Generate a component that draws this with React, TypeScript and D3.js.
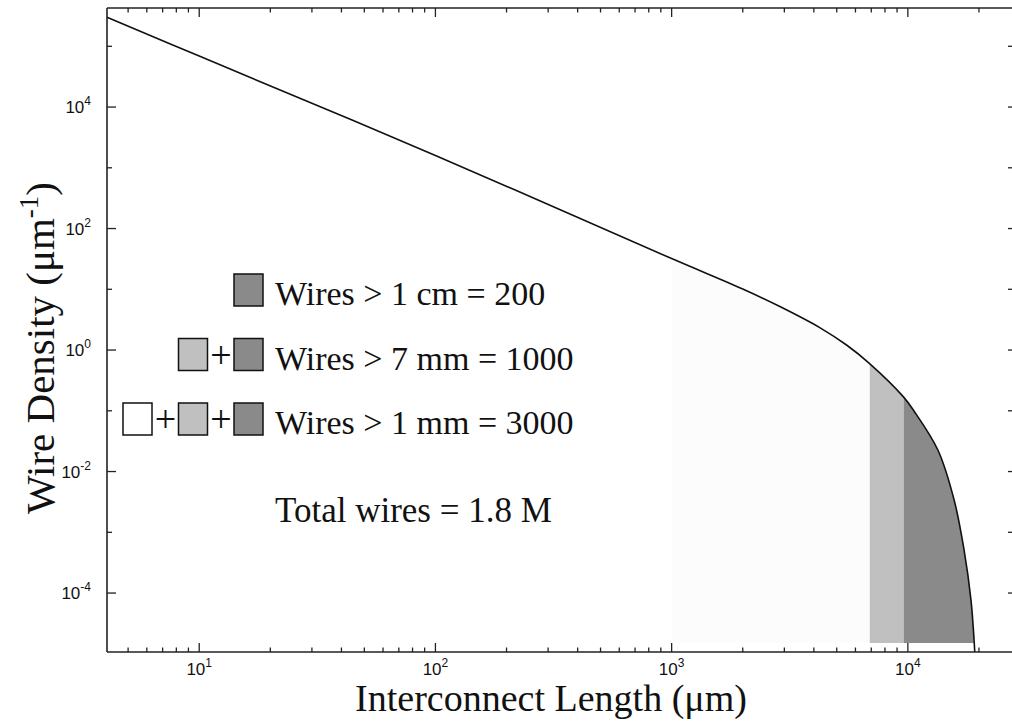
import React from 'react';
import * as d3 from 'd3';

// wire length distribution (µm, µm^-1)
const lengthUm = [4.07, 10, 100, 1000, 2000, 2900, 4270, 5500, 6850, 9600, 10600, 13400, 15700, 17300, 18500, 19200];
const density = [3.0e5, 6.9e4, 1.6e3, 32, 10.1, 5.1, 2.3, 1.21, 0.61, 0.168, 0.1, 0.0226, 0.0034, 5.1e-4, 7.7e-5, 1.07e-5];

// shaded bands: > 1 mm (white), > 7 mm (light), > 1 cm (dark)
const bandStart = [1000, 6900, 9600];
const bandEnd = [6900, 9600, 19000];
const bandFill = ['#fcfcfc', '#c0c0c0', '#8a8a8a'];
const shadeFloor = 1.5e-5;

const legendLines = ['Wires > 1 cm = 200', 'Wires > 7 mm = 1000', 'Wires > 1 mm = 3000'];
const legendBoxes = [[2], [1, 2], [0, 1, 2]];
const totalLine = 'Total wires = 1.8 M';

const xLabelExp = [1, 2, 3, 4];
const yLabelExp = [-4, -2, 0, 2, 4];

const W = 1012;
const H = 721;
const left = 107, right = 1013, top = 8, bottom = 652;

const serif = '"Liberation Serif", "Times New Roman", serif';
const sans = '"Liberation Sans", Arial, sans-serif';

export default function App() {
  const x = d3.scaleLog().domain([4.07, 27870]).range([left, right]);
  const y = d3.scaleLog().domain([1.07e-5, 4.27e5]).range([bottom, top]);

  const pts: [number, number][] = lengthUm.map((l, i) => [x(l), y(density[i])]);
  const curve = d3.curveCatmullRom.alpha(0.5);
  const line = d3.line().curve(curve)(pts) || '';
  const area =
    d3
      .area()
      .curve(curve)
      .x((d) => d[0])
      .y0(y(shadeFloor))
      .y1((d) => d[1])(pts) || '';

  // minor / major ticks along x
  const xTicks: { v: number; major: boolean }[] = [];
  for (let k = 0; k <= 4; k++) {
    for (let m = 1; m <= 9; m++) {
      const v = m * Math.pow(10, k);
      if (v >= 4.07 && v <= 27870) xTicks.push({ v, major: m === 1 });
    }
  }
  const yTicks = d3.range(-4, 6).map((e) => ({ v: Math.pow(10, e), major: e % 2 === 0 }));

  const stroke = '#222';

  return (
    <svg width={W} height={H} style={{ position: 'absolute', left: 0, top: 0, background: '#fff' }}>
      <defs>
        {bandStart.map((b, i) => (
          <clipPath id={'band' + i} key={i}>
            <rect x={x(b)} y={top} width={x(bandEnd[i]) - x(b)} height={bottom - top} />
          </clipPath>
        ))}
      </defs>

      {bandStart.map((b, i) => (
        <path key={i} d={area} fill={bandFill[i]} clipPath={`url(#band${i})`} />
      ))}

      <path d={line} fill="none" stroke="#111" strokeWidth={1.6} />

      {/* frame */}
      <line x1={left} x2={left} y1={top} y2={bottom} stroke={stroke} strokeWidth={1.6} />
      <line x1={left} x2={W} y1={top} y2={top} stroke={stroke} strokeWidth={1.6} />
      <line x1={left} x2={W} y1={bottom} y2={bottom} stroke={stroke} strokeWidth={1.6} />

      {xTicks.map((t, i) => (
        <g key={i} stroke={stroke} strokeWidth={1.3}>
          <line x1={x(t.v)} x2={x(t.v)} y1={bottom} y2={bottom - (t.major ? 9 : 4.5)} />
          <line x1={x(t.v)} x2={x(t.v)} y1={top} y2={top + (t.major ? 9 : 4.5)} />
        </g>
      ))}
      {yTicks.map((t, i) => (
        <g key={i} stroke={stroke} strokeWidth={1.3}>
          <line x1={left} x2={left + (t.major ? 9 : 5)} y1={y(t.v)} y2={y(t.v)} />
          <line x1={W - 4} x2={W} y1={y(t.v)} y2={y(t.v)} />
        </g>
      ))}

      {xLabelExp.map((e) => (
        <text key={e} x={x(Math.pow(10, e))} y={675} textAnchor="middle" fontFamily={sans} fontSize={17} fill="#111">
          10<tspan dy={-8} fontSize={12}>{e}</tspan>
        </text>
      ))}
      {yLabelExp.map((e) => (
        <text key={e} x={91} y={y(Math.pow(10, e)) + 6} textAnchor="end" fontFamily={sans} fontSize={17} fill="#111">
          10<tspan dy={-8} fontSize={12}>{e}</tspan>
        </text>
      ))}

      <text x={551} y={711} textAnchor="middle" fontFamily={serif} fontSize={38} fill="#111">
        Interconnect Length (μm)
      </text>
      <text transform="translate(54,348) rotate(-90)" textAnchor="middle" fontFamily={serif} fontSize={41} fill="#111">
        Wire Density (μm<tspan dy={-16} fontSize={27}>-1</tspan>
        <tspan dy={16}>)</tspan>
      </text>

      {/* legend */}
      {legendLines.map((txt, r) => {
        const boxTop = 274 + r * 64.5;
        const boxes = legendBoxes[r];
        return (
          <g key={r}>
            {boxes.map((b, j) => {
              const bx = 234 - (boxes.length - 1 - j) * 55.5;
              return (
                <g key={j}>
                  <rect x={bx} y={boxTop} width={29} height={32} fill={b === 0 ? '#fff' : bandFill[b]} stroke="#111" strokeWidth={1.5} />
                  {j > 0 && (
                    <text x={bx - 13} y={boxTop + 29} textAnchor="middle" fontFamily={serif} fontSize={38} fill="#111">
                      +
                    </text>
                  )}
                </g>
              );
            })}
            <text x={275} y={boxTop + 31} fontFamily={serif} fontSize={34} fill="#111">
              {txt}
            </text>
          </g>
        );
      })}
      <text x={275} y={522} fontFamily={serif} fontSize={35} fill="#111">
        {totalLine}
      </text>
    </svg>
  );
}
